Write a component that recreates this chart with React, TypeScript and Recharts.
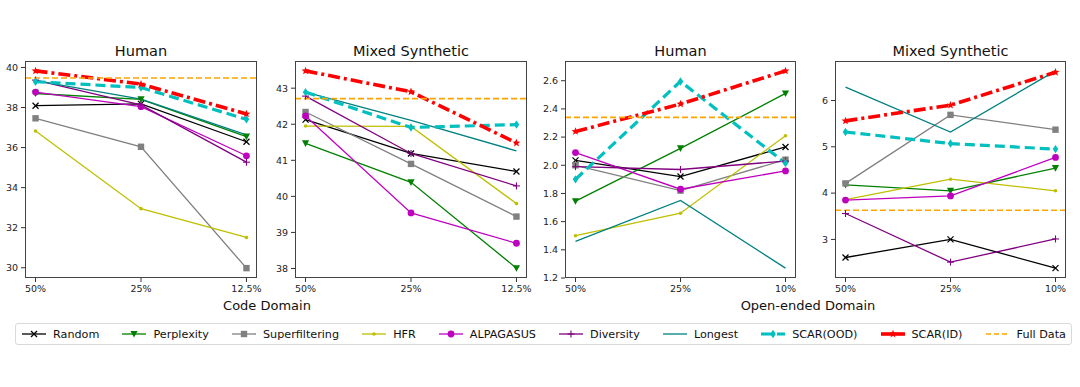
import { LineChart, Line, XAxis, YAxis, ReferenceLine } from 'recharts';

const codeTicks = ['50%', '25%', '12.5%'];
const openTicks = ['50%', '25%', '10%'];

const methods = ['Random', 'Perplexity', 'Superfiltering', 'HFR', 'ALPAGASUS', 'Diversity', 'Longest', 'SCAR(OOD)', 'SCAR(ID)'];

const codeHuman: Record<string, number[]> = {
  Random: [38.09, 38.18, 36.29],
  Perplexity: [38.7, 38.41, 36.55],
  Superfiltering: [37.46, 36.04, 29.98],
  HFR: [36.83, 32.95, 31.51],
  ALPAGASUS: [38.77, 38.04, 35.59],
  Diversity: [39.37, 38.13, 35.27],
  Longest: [39.34, 38.42, 36.63],
  'SCAR(OOD)': [39.29, 39.0, 37.41],
  'SCAR(ID)': [39.83, 39.17, 37.68],
};
const codeMixed: Record<string, number[]> = {
  Random: [42.13, 41.19, 40.69],
  Perplexity: [41.47, 40.39, 38.01],
  Superfiltering: [42.34, 40.9, 39.44],
  HFR: [41.95, 41.94, 39.8],
  ALPAGASUS: [42.23, 39.54, 38.7],
  Diversity: [42.78, 41.19, 40.29],
  Longest: [42.89, 42.11, 41.26],
  'SCAR(OOD)': [42.89, 41.91, 41.99],
  'SCAR(ID)': [43.48, 42.9, 41.48],
};
const openHuman: Record<string, number[]> = {
  Random: [2.035, 1.92, 2.13],
  Perplexity: [1.745, 2.12, 2.51],
  Superfiltering: [2.0, 1.82, 2.04],
  HFR: [1.5, 1.66, 2.21],
  ALPAGASUS: [2.09, 1.83, 1.96],
  Diversity: [1.99, 1.97, 2.03],
  Longest: [1.46, 1.75, 1.27],
  'SCAR(OOD)': [1.9, 2.595, 2.015],
  'SCAR(ID)': [2.24, 2.435, 2.67],
};
const openMixed: Record<string, number[]> = {
  Random: [2.61, 3.0, 2.38],
  Perplexity: [4.18, 4.05, 4.54],
  Superfiltering: [4.21, 5.69, 5.37],
  HFR: [3.86, 4.3, 4.05],
  ALPAGASUS: [3.85, 3.94, 4.77],
  Diversity: [3.56, 2.51, 3.01],
  Longest: [6.29, 5.32, 6.64],
  'SCAR(OOD)': [5.32, 5.07, 4.95],
  'SCAR(ID)': [5.56, 5.9, 6.61],
};
const fullData = [39.47, 42.71, 2.34, 3.63];

const yTicks = [
  [30, 32, 34, 36, 38, 40],
  [38, 39, 40, 41, 42, 43],
  [1.2, 1.4, 1.6, 1.8, 2.0, 2.2, 2.4, 2.6],
  [3, 4, 5, 6],
];

const FONT = '"DejaVu Sans", Verdana, sans-serif';

type Style = { color: string; marker: string; width: number; dash?: string };
const styles: Record<string, Style> = {
  Random: { color: '#000000', marker: 'x', width: 1.3 },
  Perplexity: { color: '#008000', marker: 'v', width: 1.3 },
  Superfiltering: { color: '#808080', marker: 's', width: 1.3 },
  HFR: { color: '#bfbf00', marker: '.', width: 1.3 },
  ALPAGASUS: { color: '#bf00bf', marker: 'o', width: 1.3 },
  Diversity: { color: '#800080', marker: '+', width: 1.3 },
  Longest: { color: '#008080', marker: '', width: 1.3 },
  'SCAR(OOD)': { color: '#00bfbf', marker: 'd', width: 3.2, dash: '10 5' },
  'SCAR(ID)': { color: '#ff0000', marker: '*', width: 3.6, dash: '12 4 3 4' },
};
const fullColor = '#ffa500';

function Marker({ kind, cx, cy, color }: { kind: string; cx: number; cy: number; color: string }) {
  if (cx == null || cy == null) return null;
  switch (kind) {
    case 'x':
      return (
        <g stroke={color} strokeWidth={1.2}>
          <line x1={cx - 3} y1={cy - 3} x2={cx + 3} y2={cy + 3} />
          <line x1={cx - 3} y1={cy + 3} x2={cx + 3} y2={cy - 3} />
        </g>
      );
    case 'v':
      return <polygon points={`${cx - 3.6},${cy - 3} ${cx + 3.6},${cy - 3} ${cx},${cy + 3.6}`} fill={color} />;
    case 's':
      return <rect x={cx - 3.2} y={cy - 3.2} width={6.4} height={6.4} fill={color} />;
    case '.':
      return <circle cx={cx} cy={cy} r={1.8} fill={color} />;
    case 'o':
      return <circle cx={cx} cy={cy} r={3.4} fill={color} />;
    case '+':
      return (
        <g stroke={color} strokeWidth={1.1}>
          <line x1={cx - 3.5} y1={cy} x2={cx + 3.5} y2={cy} />
          <line x1={cx} y1={cy - 3.5} x2={cx} y2={cy + 3.5} />
        </g>
      );
    case 'd':
      return <polygon points={`${cx},${cy - 4.2} ${cx + 2.8},${cy} ${cx},${cy + 4.2} ${cx - 2.8},${cy}`} fill={color} />;
    case '*': {
      const pts: string[] = [];
      for (let k = 0; k < 10; k++) {
        const r = k % 2 === 0 ? 4.2 : 1.8;
        const a = -Math.PI / 2 + (k * Math.PI) / 5;
        pts.push(`${cx + r * Math.cos(a)},${cy + r * Math.sin(a)}`);
      }
      return <polygon points={pts.join(' ')} fill={color} />;
    }
    default:
      return null;
  }
}

const frames = [
  { L: 25, R: 257 },
  { L: 295, R: 527 },
  { L: 565, R: 796 },
  { L: 835, R: 1066 },
];
const TOP = 61;
const BOTTOM = 278;
const titles = ['Human', 'Mixed Synthetic', 'Human', 'Mixed Synthetic'];
const panelData = [codeHuman, codeMixed, openHuman, openMixed];
const panelTicks = [codeTicks, codeTicks, openTicks, openTicks];

function Panel({ idx }: { idx: number }) {
  const { L, R } = frames[idx];
  const series = panelData[idx];
  const labels = panelTicks[idx];
  const rows = labels.map((lab, i) => {
    const row: Record<string, number | string> = { i, lab };
    methods.forEach((m) => (row[m] = series[m][i]));
    return row;
  });
  const all = methods.flatMap((m) => series[m]).concat([fullData[idx]]);
  const lo = Math.min(...all);
  const hi = Math.max(...all);
  const pad = (hi - lo) * 0.05;
  const yAxisW = 45;
  const h = 300;
  const w = R - L + yAxisW + 6;
  const fmt = idx === 2 ? (v: number) => v.toFixed(1) : (v: number) => String(v);
  return (
    <>
      <div
        style={{
          position: 'absolute',
          left: L,
          width: R - L,
          top: 43,
          textAlign: 'center',
          fontSize: 14.5,
          lineHeight: '16px',
          color: '#111',
          fontFamily: FONT,
        }}
      >
        {titles[idx]}
      </div>
      <div style={{ position: 'absolute', left: L - yAxisW, top: 0 }}>
        <LineChart width={w} height={h} data={rows} margin={{ top: TOP, right: 6, bottom: 0, left: 0 }}>
          <XAxis
            dataKey="i"
            type="number"
            domain={[-0.1, 2.1]}
            ticks={[0, 1, 2]}
            tickFormatter={(v: number) => labels[v]}
            axisLine={false}
            tickSize={4}
            tickMargin={3}
            height={h - BOTTOM}
            tick={{ fontSize: 9.5, fill: '#222', fontFamily: FONT }}
            tickLine={{ stroke: '#333' }}
            allowDataOverflow
          />
          <YAxis
            type="number"
            domain={[lo - pad, hi + pad]}
            ticks={yTicks[idx]}
            tickFormatter={fmt}
            axisLine={false}
            width={yAxisW}
            tickSize={4}
            tickMargin={3}
            tick={{ fontSize: 9.5, fill: '#222', fontFamily: FONT }}
            tickLine={{ stroke: '#333' }}
            allowDataOverflow
          />
          {methods.map((m) => {
            const st = styles[m];
            return (
              <Line
                key={m}
                dataKey={m}
                type="linear"
                stroke={st.color}
                strokeWidth={st.width}
                strokeDasharray={st.dash}
                isAnimationActive={false}
                activeDot={false}
                dot={
                  st.marker
                    ? (p: any) => <Marker key={`${m}-${p.index}`} kind={st.marker} cx={p.cx} cy={p.cy} color={st.color} />
                    : false
                }
              />
            );
          })}
          <ReferenceLine y={fullData[idx]} stroke={fullColor} strokeWidth={1.6} strokeDasharray="6 3" />
        </LineChart>
      </div>
      <div
        style={{
          position: 'absolute',
          left: L,
          top: TOP,
          width: R - L,
          height: BOTTOM - TOP,
          boxSizing: 'border-box',
          border: '1px solid #444',
          pointerEvents: 'none',
        }}
      />
    </>
  );
}

function LegendHandle({ name }: { name: string }) {
  const st = name === 'Full Data' ? { color: fullColor, marker: '', width: 1.6, dash: '5 3' } : styles[name];
  const dash = name === 'SCAR(OOD)' ? '12 4' : name === 'SCAR(ID)' ? undefined : st.dash;
  return (
    <svg width={26} height={12} style={{ display: 'block' }}>
      <line x1={1} y1={6} x2={25} y2={6} stroke={st.color} strokeWidth={st.width} strokeDasharray={dash} />
      {st.marker ? <Marker kind={st.marker} cx={13} cy={6} color={st.color} /> : null}
    </svg>
  );
}

export default function App() {
  const legendItems = [...methods, 'Full Data'];
  return (
    <div style={{ position: 'absolute', left: 0, top: 0, width: 1080, height: 387, background: '#fff', fontFamily: FONT }}>
      {frames.map((_, i) => (
        <Panel key={i} idx={i} />
      ))}
      <div style={{ position: 'absolute', left: 167, width: 200, top: 298, textAlign: 'center', fontSize: 13, color: '#111' }}>
        Code Domain
      </div>
      <div style={{ position: 'absolute', left: 708, width: 200, top: 298, textAlign: 'center', fontSize: 13, color: '#111' }}>
        Open-ended Domain
      </div>
      <div
        style={{
          position: 'absolute',
          left: 15,
          top: 323,
          width: 1057,
          height: 22,
          boxSizing: 'border-box',
          border: '1px solid #d9d9d9',
          borderRadius: 3,
          display: 'flex',
          alignItems: 'center',
          justifyContent: 'space-between',
          padding: '0 5px 0 5px',
          fontSize: 11.2,
          color: '#111',
        }}
      >
        {legendItems.map((n) => (
          <div key={n} style={{ display: 'flex', alignItems: 'center', gap: 6 }}>
            <LegendHandle name={n} />
            <span>{n}</span>
          </div>
        ))}
      </div>
    </div>
  );
}
